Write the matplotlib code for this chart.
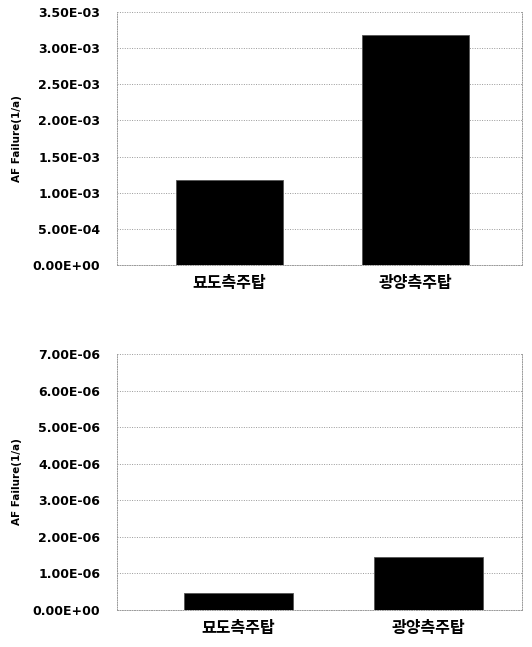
import matplotlib
matplotlib.use("Agg")
import matplotlib.pyplot as plt
from matplotlib.ticker import FixedLocator

categories = ["묘도측주탑", "광양측주탑"]
top_values = [1.18e-3, 3.18e-3]
bottom_values = [0.47e-6, 1.46e-6]
top_ticks = [0, 5e-4, 1e-3, 1.5e-3, 2e-3, 2.5e-3, 3e-3, 3.5e-3]
top_ticklabels = ["0.00E+00", "5.00E-04", "1.00E-03", "1.50E-03", "2.00E-03", "2.50E-03", "3.00E-03", "3.50E-03"]
bottom_ticks = [0, 1e-6, 2e-6, 3e-6, 4e-6, 5e-6, 6e-6, 7e-6]
bottom_ticklabels = ["0.00E+00", "1.00E-06", "2.00E-06", "3.00E-06", "4.00E-06", "5.00E-06", "6.00E-06", "7.00E-06"]
ylabel = "AF Failure(1/a)"

W, H = 532, 647
fig = plt.figure(figsize=(W / 100, H / 100), dpi=100)

def make_axes(rect, values, ticks, ticklabels, xlim):
    ax = fig.add_axes(rect)
    x = list(range(len(categories)))
    ax.bar(x, values, width=0.575, color="black", edgecolor="#555555", linewidth=0.6, zorder=3)
    ax.set_ylim(ticks[0], ticks[-1])
    ax.set_xlim(*xlim)
    ax.yaxis.set_major_locator(FixedLocator(ticks))
    ax.set_yticklabels(ticklabels, fontsize=9, fontweight="bold", family=["DejaVu Sans"])
    ax.set_xticks(x)
    ax.set_xticklabels(categories, fontsize=11.5, fontweight="bold",
                       family=["Noto Sans CJK KR", "DejaVu Sans"])
    ax.tick_params(axis="y", length=0, pad=12)
    ax.tick_params(axis="x", length=0, pad=7)
    ax.grid(axis="y", color="#999999", linestyle=(0, (1, 1.5)), linewidth=0.7, zorder=0)
    for s in ["left", "bottom", "right"]:
        ax.spines[s].set_color("#999999")
        ax.spines[s].set_linestyle((0, (1, 1.5)))
        ax.spines[s].set_linewidth(0.7)
    ax.spines["top"].set_visible(False)
    ax.set_ylabel(ylabel, fontsize=7.5, fontweight="bold",
                  family=["Liberation Sans Narrow", "DejaVu Sans"], labelpad=8)
    return ax

ax1 = make_axes([117 / W, 1 - 265 / H, (522 - 117) / W, (265 - 12) / H],
                top_values, top_ticks, top_ticklabels, (-0.605, 1.57))
ax2 = make_axes([117 / W, 1 - 610 / H, (522 - 117) / W, (610 - 354) / H],
                bottom_values, bottom_ticks, bottom_ticklabels, (-0.64, 1.49))

fig.savefig("out.png", dpi=100)
